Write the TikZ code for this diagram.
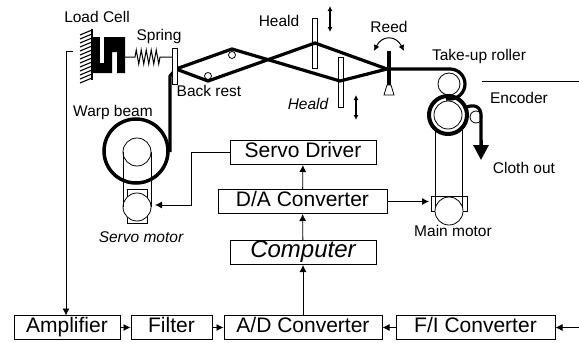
\documentclass[tikz,border=0pt]{standalone}
\usepackage{fontspec}
\setmainfont{Liberation Sans}
\usetikzlibrary{arrows.meta,decorations.pathmorphing}
\tikzset{
  x=1pt,y=-1pt,
  blk/.style={draw,line width=1pt,minimum height=24pt,inner sep=0pt,text height=15pt,text depth=4.5pt,font=\fontsize{21}{21}\selectfont},
  lab/.style={inner sep=0pt,text height=11pt,text depth=3pt,font=\fontsize{15.5}{16}\selectfont},
  sig/.style={line width=.8pt,-{Latex[length=7pt,width=7pt]}},
  thread/.style={line width=3.2pt,line join=round},
  thin part/.style={line width=.8pt,fill=white},
  updown/.style={line width=1.2pt,{Latex[length=5pt,width=5pt]}-{Latex[length=5pt,width=5pt]}},
}
\begin{document}
\begin{tikzpicture}
\useasboundingbox (0,0) rectangle (579,343);
% blocks
\node[blk,minimum width=146pt] (servo) at (303,152.5) {Servo Driver};
\node[blk,minimum width=169pt] (da) at (302.5,201.5) {D/A Converter};
\node[blk,minimum width=146pt,font=\fontsize{24}{24}\selectfont\itshape] (comp) at (303,252.5) {Computer};
\node[blk,minimum width=106pt] (amp) at (67,327.5) {Amplifier};
\node[blk,minimum width=81pt] (filt) at (171.5,327.5) {Filter};
\node[blk,minimum width=158pt] (ad) at (303,327.5) {A/D Converter};
\node[blk,minimum width=159pt] (fi) at (475.5,327.5) {F/I Converter};
\coordinate (inR) at (579,327.5);
% block arrows
\draw[sig] (da) -- (servo);
\draw[sig] (comp) -- (da);
\draw[sig] (ad) -- (comp);
\draw[sig] (amp) -- (filt);
\draw[sig] (filt) -- (ad);
\draw[sig] (fi) -- (ad);
\draw[sig] (inR) -- (fi);
% warp beam and servo motor
\draw[thin part] (127,189) rectangle (147,223);
\node[draw,circle,line width=.8pt,fill=white,minimum size=28pt,inner sep=0pt] (smotor) at (137,207) {};
\node[draw,circle,line width=.8pt,minimum size=28pt,inner sep=0pt] (hub) at (137,152) {};
\draw[line width=.8pt] (123,152) -- (123,207) (151,152) -- (151,207);
\node[draw,circle,line width=3.5pt,minimum size=64pt,inner sep=0pt] (beam) at (136,151) {};
\coordinate (sEnd) at (155,205);
\draw[sig] (servo.west) -- (191,152.5) -- (191,205) -- (sEnd);
% main motor
\draw[thin part] (431,196) rectangle (467,211);
\node[draw,circle,line width=.8pt,fill=white,minimum size=28pt,inner sep=0pt] (mmotor) at (449,211) {};
\draw[line width=.8pt] (435,130) -- (435,207) (462,130) -- (462,207);
\coordinate (mEnd) at (429,201.5);
\draw[sig] (da.east) -- (mEnd);
% load cell
\foreach \y in {32,36,...,80} \draw[line width=1.1pt] (92,\y-2) -- (80,\y+3);
\draw[line width=1.2pt] (92,29) -- (92,80);
\fill (92,37) -- (125,37) -- (125,73) -- (117,73) -- (117,52) -- (112,52) -- (112,73) -- (92,73) -- cycle;
\fill[white] (100,37) rectangle (104,63);
\coordinate (cellL) at (73,51);
\draw[sig] (cellL) -- (66,51) -- (66,315.5);
% spring
\coordinate (sprA) at (125,57);
\coordinate (sprB) at (172,57);
\draw[line width=1pt,decorate,decoration={zigzag,amplitude=7pt,segment length=5pt,pre length=10pt,post length=12pt}] (sprA) -- (sprB);
% warp threads
\draw[line width=.8pt] (232,55) circle (3.5) (208,76) circle (3.5);
\draw[thread] (170,152) -- (170,76) -- (176,69);
\draw[thread] (176,69) -- (232,49) -- (340,81) -- (387,69);
\draw[thread] (176,69) -- (208,81) -- (315,43) -- (387,69);
\draw[thin part] (172,48) rectangle (177,84);
% healds
\draw[thin part,fill=none] (312,18) rectangle (317,68);
\draw[thin part,fill=none] (338,57) rectangle (343,107);
\coordinate (u1a) at (330,6); \coordinate (u1b) at (330,32);
\coordinate (u2a) at (356,95); \coordinate (u2b) at (356,120);
\draw[updown] (u1a) -- (u1b);
\draw[updown] (u2a) -- (u2b);
% reed
\draw[line width=4pt] (389,51) -- (389,85);
\draw[line width=.8pt,fill=white] (387,85) -- (391,85) -- (394,95) -- (384,95) -- cycle;
\coordinate (rl) at (374,51); \coordinate (rr) at (404,51);
\draw[line width=1pt,{Latex[length=6pt,width=6pt]}-{Latex[length=6pt,width=6pt]}] (rl) .. controls (382,35) and (396,35) .. (rr);
% rollers and cloth
\node[draw,circle,line width=.8pt,minimum size=22pt,inner sep=0pt] (roll) at (449,84) {};
\node[draw,circle,line width=.8pt,minimum size=28pt,inner sep=0pt] (low) at (448,115) {};
\node[draw,circle,line width=.8pt,minimum size=12pt,inner sep=0pt] (enc) at (476,117) {};
\draw[thread] (387,69) -- (450,69) arc[start angle=-90,end angle=90,radius=15] -- (446,99);
\node[draw,circle,line width=4pt,minimum size=38pt,inner sep=0pt] (lowout) at (448,115) {};
\draw[thread] (464,109) .. controls (468,105) and (480,103) .. (481,114) -- (481,146);
\coordinate (clothEnd) at (481,160);
\draw[-{Triangle[length=15pt,width=15pt]},line width=3pt] (481,140) -- (clothEnd);
% other lines
\coordinate (lnA) at (482,81); \coordinate (lnB) at (579,81);
\draw[line width=.8pt] (lnA) -- (lnB);
% labels
\node[lab] (t1) at (97,18) {Load Cell};
\node[lab] (t2) at (159,36) {Spring};
\node[lab] (t3) at (209,92) {Back rest};
\node[lab] (t4) at (113,112) {Warp beam};
\node[lab] (t5) at (279,22) {Heald};
\node[lab,font=\fontsize{15.5}{16}\selectfont\itshape] (t6) at (308,105) {Heald};
\node[lab] (t7) at (389,28) {Reed};
\node[lab] (t8) at (479,56) {Take-up roller};
\node[lab] (t9) at (519,99) {Encoder};
\node[lab] (t10) at (524,169) {Cloth out};
\node[lab] (t11) at (453,232) {Main motor};
\node[lab,font=\fontsize{15.5}{16}\selectfont\itshape] (t12) at (141,238) {Servo motor};
\end{tikzpicture}
\end{document}
